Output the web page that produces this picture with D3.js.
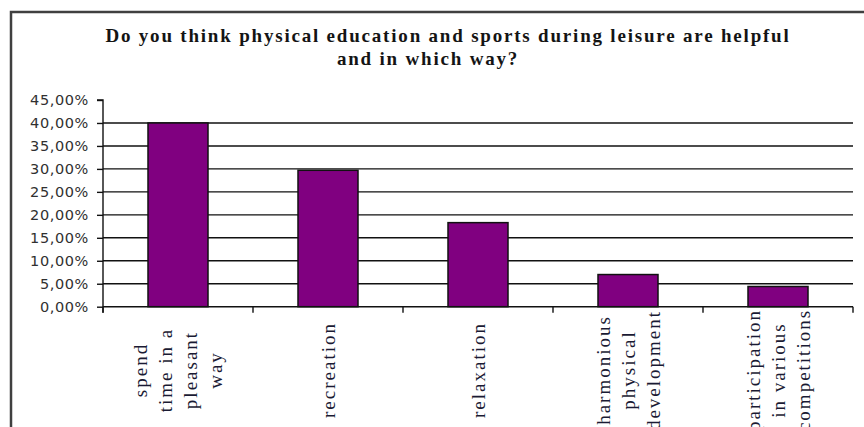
<!DOCTYPE html>
<html>
<head>
<meta charset="utf-8">
<script src="https://cdn.jsdelivr.net/npm/d3@7"></script>
<style>
  html, body { margin: 0; padding: 0; background: #fff; }
  svg { display: block; }
</style>
</head>
<body>
<svg id="chart" width="864" height="427"></svg>
<script>
// ---- data ----
const titleLines = ["Do you think physical education and sports during leisure are helpful", "and in which way?"];
const categories = ["spend time in a pleasant way", "recreation", "relaxation", "harmonious physical development", "participation in various competitions"];
const categoryLabelLines = [
  ["spend", "time in a", "pleasant", "way"],
  ["recreation"],
  ["relaxation"],
  ["harmonious", "physical", "development"],
  ["participation", "in various", "competitions"]
];
const values = [0.40, 0.297, 0.183, 0.070, 0.044];
const yTicks = [0, 0.05, 0.10, 0.15, 0.20, 0.25, 0.30, 0.35, 0.40, 0.45];
const gridTicks = [0.05, 0.10, 0.15, 0.20, 0.25, 0.30, 0.35, 0.40];

// ---- layout ----
const svg = d3.select("#chart");
const plotLeft = 103, plotRight = 853, plotTop = 100, plotBottom = 306.7;

const x = d3.scaleBand().domain(categories).range([plotLeft, plotRight]).paddingInner(0.6).paddingOuter(0.3);
const y = d3.scaleLinear().domain([0, 0.45]).range([plotBottom, plotTop]);

// outer frame
svg.append("path")
  .attr("d", "M11,440 L11,12 L870,12")
  .attr("fill", "none").attr("stroke", "#404040").attr("stroke-width", 2.5);

// title
const titleCenters = [448, 428];
svg.append("g").selectAll("text").data(titleLines).join("text")
  .attr("x", (d, i) => titleCenters[i]).attr("y", (d, i) => 42 + i * 23)
  .attr("text-anchor", "middle")
  .style("font-family", "'Liberation Serif', 'Times New Roman', serif")
  .style("font-weight", "bold").style("font-size", "19px").style("letter-spacing", "1.8px")
  .attr("fill", "#141414")
  .text(d => d);

// gridlines
svg.append("g").selectAll("line").data(gridTicks).join("line")
  .attr("x1", plotLeft).attr("x2", plotRight)
  .attr("y1", d => y(d)).attr("y2", d => y(d))
  .attr("stroke", "#111").attr("stroke-width", 1.4);

// bars
svg.append("g").selectAll("rect").data(values).join("rect")
  .attr("x", (d, i) => x(categories[i]))
  .attr("width", x.bandwidth())
  .attr("y", d => y(d))
  .attr("height", d => y(0) - y(d))
  .attr("fill", "#800080").attr("stroke", "#111").attr("stroke-width", 1.5);

// y axis
const yAxis = d3.axisLeft(y).tickValues(yTicks).tickSize(6).tickPadding(8)
  .tickFormat(d => d3.format(".2f")(d * 100).replace(".", ",") + "%");
const gy = svg.append("g").attr("transform", `translate(${plotLeft},0)`).call(yAxis);
gy.select(".domain").attr("d", `M-6,${plotTop}H0V${plotBottom + 6}`).attr("stroke", "#111").attr("stroke-width", 1.4).attr("fill", "none");
gy.selectAll(".tick line").attr("stroke", "#111").attr("stroke-width", 1.4);
gy.selectAll(".tick text")
  .style("font-family", "'DejaVu Sans', Verdana, sans-serif")
  .style("font-size", "14.5px").style("letter-spacing", "0.6px")
  .attr("fill", "#303030");

// x axis line with boundary ticks
const halfGap = (x.step() - x.bandwidth()) / 2;
const boundaries = categories.map(c => x(c) - halfGap).concat([plotRight]);
svg.append("line").attr("x1", plotLeft).attr("x2", plotRight).attr("y1", y(0)).attr("y2", y(0))
  .attr("stroke", "#111").attr("stroke-width", 1.4);
svg.append("g").selectAll("line").data(boundaries).join("line")
  .attr("x1", d => d).attr("x2", d => d)
  .attr("y1", y(0)).attr("y2", y(0) + 6)
  .attr("stroke", "#111").attr("stroke-width", 1.4);

// category labels (rotated)
const lineGap = 25;
const labG = svg.append("g");
categories.forEach((c, i) => {
  const lines = categoryLabelLines[i];
  const cx = x(c) + x.bandwidth() / 2;
  lines.forEach((t, j) => {
    const lx = cx + (j - (lines.length - 1) / 2) * lineGap;
    labG.append("text")
      .attr("transform", `translate(${lx},370) rotate(-90)`)
      .attr("text-anchor", "middle")
      .attr("dy", "0.35em")
      .style("font-family", "'Liberation Serif', 'Times New Roman', serif")
      .style("font-size", "19px").style("letter-spacing", "2px")
      .attr("fill", "#1a1a33")
      .text(t);
  });
});
</script>
</body>
</html>
